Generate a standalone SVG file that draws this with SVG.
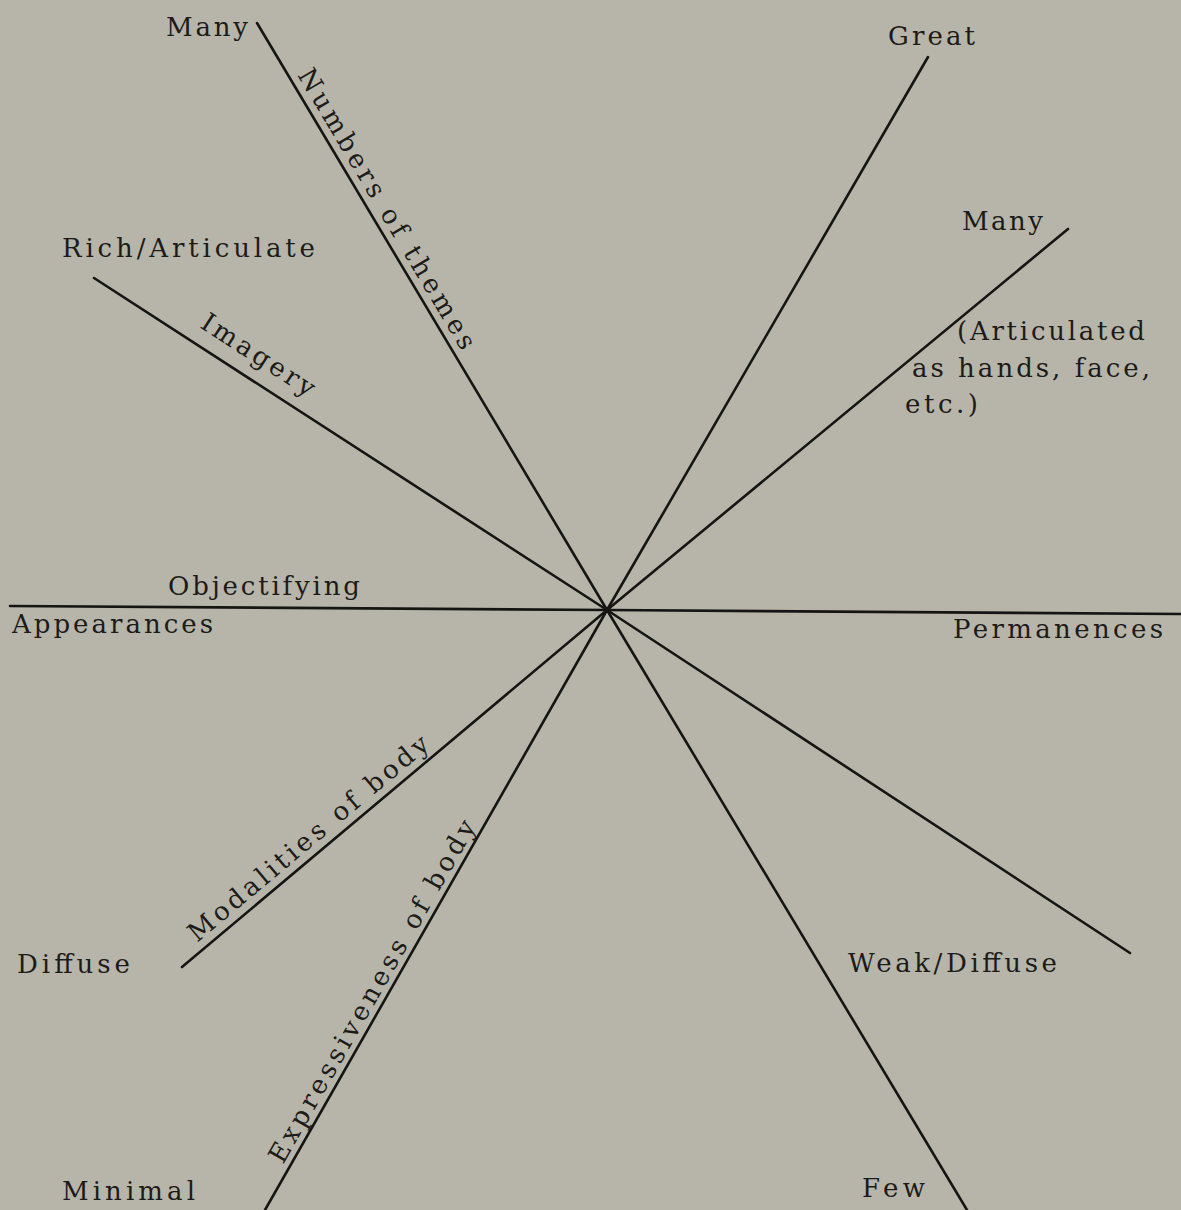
<svg xmlns="http://www.w3.org/2000/svg" width="1181" height="1210" viewBox="0 0 1181 1210">
<defs>
<style>
.t{font-family:"DejaVu Serif","Liberation Serif",serif;font-size:26px;fill:#1c1b19;}
.ax{stroke:#151513;stroke-width:2.6;fill:none;stroke-linecap:round;stroke-linejoin:round;}
</style>
</defs>
<rect width="1181" height="1210" fill="#b7b5a9"/>
<g id="axes">
<path class="ax" d="M257,23 L607,610 L967,1210"/>
<path class="ax" d="M928,57 L607,610 L265,1210"/>
<path class="ax" d="M1068,229 L607,610 L182,967"/>
<path class="ax" d="M94,278 L607,610 L1130,953"/>
<path class="ax" d="M10,606 L607,610 L1181,614"/>
</g>
<g id="axis-labels">
<text class="t" transform="translate(297,75) rotate(59.2)" textLength="322" lengthAdjust="spacing">Numbers of themes</text>
<text class="t" transform="translate(199,327) rotate(32.9)" textLength="130" lengthAdjust="spacing">Imagery</text>
<text class="t" transform="translate(197,943) rotate(-40)" textLength="305" lengthAdjust="spacing">Modalities of body</text>
<text class="t" transform="translate(283,1165) rotate(-60.3)" textLength="390" lengthAdjust="spacing">Expressiveness of body</text>
<text class="t" x="168" y="595" textLength="192" lengthAdjust="spacing">Objectifying</text>
</g>
<g id="node-many-left"><text class="t" x="166" y="36" textLength="82" lengthAdjust="spacing">Many</text></g>
<g id="node-great"><text class="t" x="888" y="45" textLength="87" lengthAdjust="spacing">Great</text></g>
<g id="node-rich"><text class="t" x="62" y="257" textLength="253" lengthAdjust="spacing">Rich/Articulate</text></g>
<g id="node-many-right">
<text class="t" x="962" y="230" textLength="81" lengthAdjust="spacing">Many</text>
<text class="t" x="957" y="340" textLength="188" lengthAdjust="spacing">(Articulated</text>
<text class="t" x="912" y="377" textLength="238" lengthAdjust="spacing">as hands, face,</text>
<text class="t" x="905" y="413" textLength="73" lengthAdjust="spacing">etc.)</text>
</g>
<g id="node-appearances"><text class="t" x="12" y="633" textLength="201" lengthAdjust="spacing">Appearances</text></g>
<g id="node-permanences"><text class="t" x="953" y="638" textLength="210" lengthAdjust="spacing">Permanences</text></g>
<g id="node-diffuse"><text class="t" x="17" y="973" textLength="113" lengthAdjust="spacing">Diffuse</text></g>
<g id="node-weak"><text class="t" x="848" y="972" textLength="209" lengthAdjust="spacing">Weak/Diffuse</text></g>
<g id="node-minimal"><text class="t" x="62" y="1200" textLength="133" lengthAdjust="spacing">Minimal</text></g>
<g id="node-few"><text class="t" x="862" y="1197" textLength="63" lengthAdjust="spacing">Few</text></g>
</svg>
